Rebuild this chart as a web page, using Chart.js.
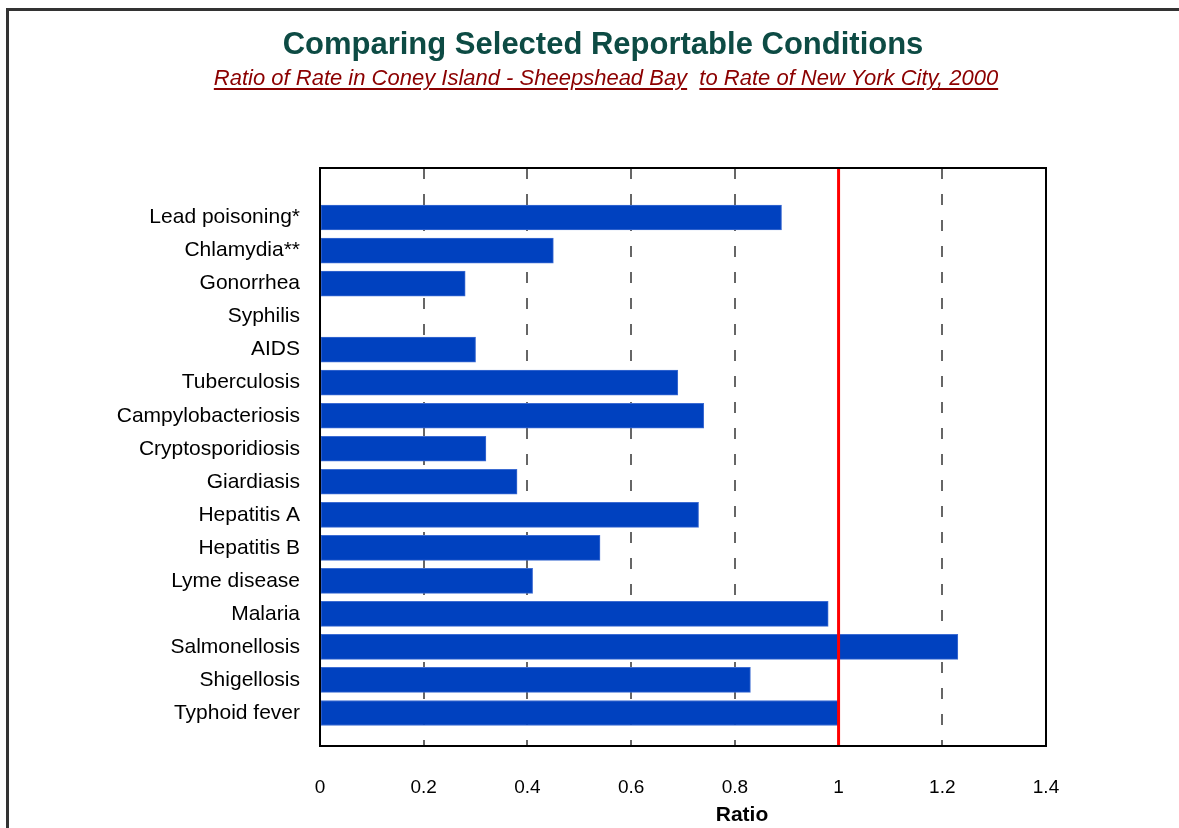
<!DOCTYPE html>
<html>
<head>
<meta charset="utf-8">
<script src="https://cdn.jsdelivr.net/npm/chart.js@4/dist/chart.umd.min.js"></script>
<style>
    body { margin: 0; background: #fff; font-family: "Liberation Sans", Arial, sans-serif; }
    #marco { position: absolute; left: 6px; top: 8px; width: 2000px; height: 2000px;
             border-top: 3px solid #333; border-left: 3px solid #333; }
    #titulo { position: absolute; left: 0; top: 27px; width: 1206px; text-align: center;
              font-size: 31px; font-weight: bold; color: #0d4b44; line-height: 34px; }
    #subtitulo { position: absolute; left: 0; top: 65px; width: 1212px; text-align: center;
                 font-size: 22px; font-style: italic; color: #8b0000; line-height: 26px; white-space: pre; }
    #subtitulo span { text-decoration: underline; text-decoration-thickness: 2px; text-underline-offset: 3px; }
    #eje-x { position: absolute; left: 642px; width: 200px; top: 802px; text-align: center;
             font-size: 21px; font-weight: bold; color: #000; }
    #grafica { position: absolute; left: 0; top: 0; }
</style>
</head>
<body>
<div id="marco"></div>
<canvas id="grafica" width="1179" height="828"></canvas>
<div id="titulo">Comparing Selected Reportable Conditions</div>
<div id="subtitulo"><span>Ratio of Rate in Coney Island - Sheepshead Bay</span>  <span>to Rate of New York City, 2000</span></div>
<div id="eje-x">Ratio</div>
<script>
(function() {
    const enfermedades = [
        'Lead poisoning*', 'Chlamydia**', 'Gonorrhea', 'Syphilis', 'AIDS',
        'Tuberculosis', 'Campylobacteriosis', 'Cryptosporidiosis', 'Giardiasis',
        'Hepatitis A', 'Hepatitis B', 'Lyme disease', 'Malaria', 'Salmonellosis',
        'Shigellosis', 'Typhoid fever'
    ];
    const razones = [
        0.89, 0.45, 0.28, 0, 0.30,
        0.69, 0.74, 0.32, 0.38,
        0.73, 0.54, 0.41, 0.98, 1.23,
        0.83, 1.00
    ];
    const etiquetasX = ['0', '0.2', '0.4', '0.6', '0.8', '1', '1.2', '1.4'];
    const referencia = 1; // razón igual a la de NYC

    const grafica = document.querySelector('#grafica');
    const ctx = grafica.getContext('2d');

    // linea roja de referencia y marco del área de trazado
    const extras = {
        id: 'extras',
        afterDatasetsDraw(chart) {
            const { ctx, chartArea, scales } = chart;
            const x = scales.x.getPixelForValue(referencia);
            ctx.save();
            ctx.strokeStyle = '#ff0000';
            ctx.lineWidth = 3;
            ctx.beginPath();
            ctx.moveTo(x, chartArea.top);
            ctx.lineTo(x, chartArea.bottom);
            ctx.stroke();
            ctx.strokeStyle = '#000';
            ctx.lineWidth = 2;
            ctx.strokeRect(chartArea.left, chartArea.top, chartArea.right - chartArea.left, chartArea.bottom - chartArea.top);
            ctx.restore();
        }
    };

    new Chart(ctx, {
        type: 'bar',
        data: {
            datasets: [{
                label: '',
                data: razones.map((r, i) => ({ x: r, y: i })),
                backgroundColor: '#0041bf',
                borderColor: '#3d6cd2',
                borderWidth: 1,
                borderSkipped: false,
                barThickness: 25
            }]
        },
        options: {
            indexAxis: 'y',
            responsive: false,
            animation: false,
            layout: { padding: { top: 168, right: 133, left: 0, bottom: 0 } },
            scales: {
                x: {
                    type: 'linear',
                    min: 0,
                    max: 1.4,
                    afterFit: scale => { scale.height = 82; },
                    ticks: {
                        stepSize: 0.2,
                        padding: 30,
                        color: '#000',
                        font: { family: 'Liberation Sans', size: 19 },
                        callback: (v, i) => etiquetasX[i]
                    },
                    grid: {
                        color: '#666',
                        lineWidth: 2,
                        drawTicks: false
                    },
                    border: { display: true, color: '#000', width: 2, dash: [11, 15] }
                },
                y: {
                    type: 'linear',
                    reverse: true,
                    offset: false,
                    min: -1.5,
                    max: 16,
                    afterFit: scale => { scale.width = 320; },
                    afterBuildTicks: scale => {
                        scale.ticks = enfermedades.map((e, i) => ({ value: i }));
                    },
                    ticks: {
                        autoSkip: false,
                        padding: 20,
                        color: '#000',
                        font: { family: 'Liberation Sans', size: 21 },
                        callback: v => enfermedades[v]
                    },
                    grid: { display: false, drawTicks: false, offset: false },
                    border: { display: true, color: '#000', width: 2 }
                }
            },
            plugins: {
                legend: { display: false },
                tooltip: { enabled: false }
            }
        },
        plugins: [extras]
    });
})();
</script>
</body>
</html>
